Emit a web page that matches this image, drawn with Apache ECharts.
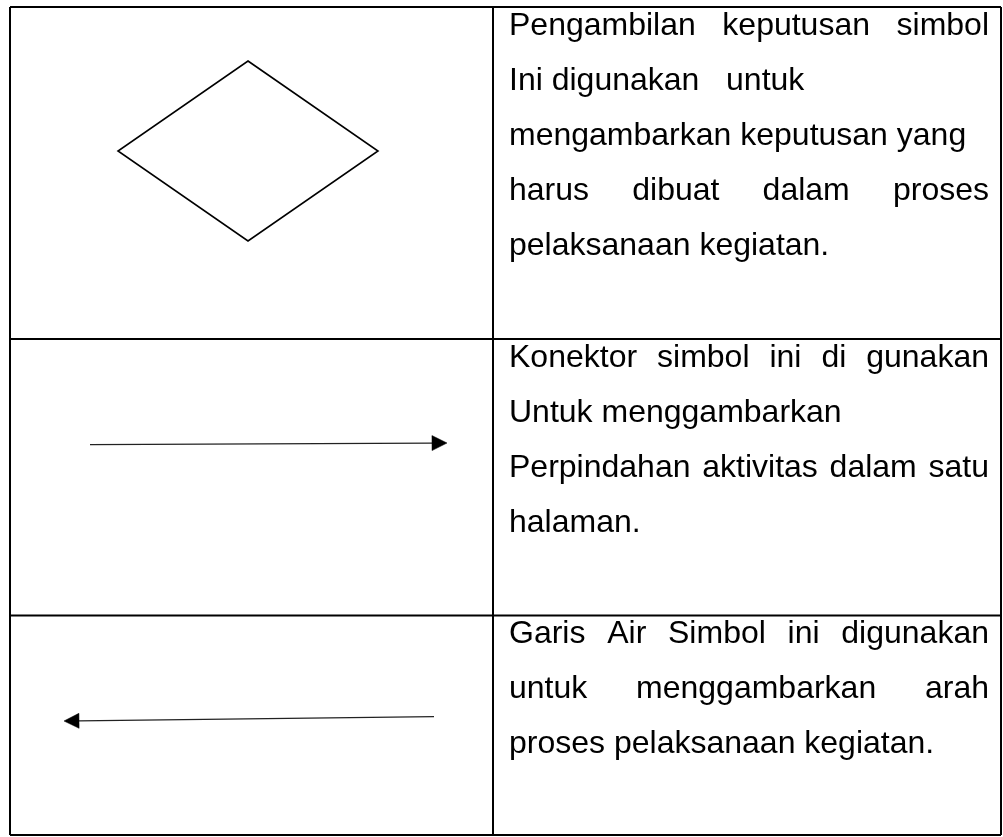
<!DOCTYPE html>
<html><head><meta charset="utf-8">
<script src="https://cdn.jsdelivr.net/npm/echarts@6/dist/echarts.min.js"></script>
<style>html,body{margin:0;padding:0;background:#fff}#c{width:1003px;height:837px}</style>
</head><body><div id="c"></div>
<script>
// Table geometry (in page pixels)
const colEdges = [10, 493, 1001];
const rowEdges = [7, 339, 615.5, 835];

// Symbols
const diamondPts = [[248, 61], [378, 151], [248, 241], [118, 151]];
const arrowFrom = [[90, 444.7], [434, 716.7]];
const arrowTo   = [[447, 443], [64, 721]];

// Texts (one list per row), with justification flags
const row1Lines = ["Pengambilan keputusan simbol", "Ini digunakan   untuk", "mengambarkan keputusan yang", "harus dibuat dalam proses", "pelaksanaan kegiatan."];
const row1Justify = [true, false, false, true, false];
const row2Lines = ["Konektor simbol ini di gunakan", "Untuk menggambarkan", "Perpindahan aktivitas dalam satu", "halaman."];
const row2Justify = [true, false, true, false];
const row3Lines = ["Garis Air Simbol ini digunakan", "untuk menggambarkan arah", "proses pelaksanaan kegiatan."];
const row3Justify = [true, true, false];

const rowsText = [row1Lines, row2Lines, row3Lines];
const rowsJustify = [row1Justify, row2Justify, row3Justify];

const FONT_SIZE = 32;
const FONT = FONT_SIZE + 'px "Liberation Sans", Arial, sans-serif';
const LINE_GAP = 55, FIRST_BASE = 30, PAD_L = 16, PAD_R = 12, MID_SHIFT = 11;

const mctx = document.createElement('canvas').getContext('2d');
mctx.font = FONT;
const tw = s => mctx.measureText(s).width;

// Build segment data
const gridSegs = [];
colEdges.forEach(x => gridSegs.push([x, rowEdges[0], x, rowEdges[rowEdges.length - 1]]));
rowEdges.forEach(y => gridSegs.push([colEdges[0], y, colEdges[colEdges.length - 1], y]));

const textData = [];
rowsText.forEach((lines, r) => lines.forEach((_, i) => textData.push([r, i])));

const chart = echarts.init(document.getElementById('c'), null, {renderer: 'canvas'});
chart.setOption({
  animation: false,
  backgroundColor: '#ffffff',
  grid: {left: 0, right: 0, top: 0, bottom: 0},
  xAxis: {type: 'value', min: 0, max: 1003, show: false},
  yAxis: {type: 'value', min: 0, max: 837, inverse: true, show: false},
  series: [
    {
      type: 'custom', data: gridSegs, clip: false,
      renderItem: (params, api) => {
        const a = api.coord([api.value(0), api.value(1)]);
        const b = api.coord([api.value(2), api.value(3)]);
        return {type: 'line', shape: {x1: a[0], y1: a[1], x2: b[0], y2: b[1]},
          style: {stroke: '#000', lineWidth: 2}};
      }
    },
    {
      type: 'custom', data: [0], clip: false,
      renderItem: (params, api) => ({
        type: 'polygon',
        shape: {points: diamondPts.map(p => api.coord(p))},
        style: {stroke: '#000', lineWidth: 1.6, fill: 'none'}
      })
    },
    {
      type: 'custom', data: arrowFrom.map((_, i) => [i]), clip: false,
      renderItem: (params, api) => {
        const i = api.value(0);
        const a = api.coord(arrowFrom[i]), b = api.coord(arrowTo[i]);
        const dx = b[0] - a[0], dy = b[1] - a[1], L = Math.hypot(dx, dy);
        const ux = dx / L, uy = dy / L, hl = 15, hw = 7.5;
        const bx = b[0] - ux * hl, by = b[1] - uy * hl;
        return {type: 'group', children: [
          {type: 'line', shape: {x1: a[0], y1: a[1], x2: bx, y2: by}, style: {stroke: '#222', lineWidth: 1.2}},
          {type: 'polygon', shape: {points: [[b[0], b[1]], [bx - uy * hw, by + ux * hw], [bx + uy * hw, by - ux * hw]]},
            style: {fill: '#000', stroke: '#000', lineWidth: 0.5}}
        ]};
      }
    },
    {
      type: 'custom', data: textData, clip: false,
      renderItem: (params, api) => {
        const r = api.value(0), i = api.value(1);
        const text = rowsText[r][i];
        const left = colEdges[1] + PAD_L, right = colEdges[2] - PAD_R;
        const baseY = rowEdges[r] + FIRST_BASE + i * LINE_GAP;
        const y = api.coord([left, baseY - MID_SHIFT])[1];
        const children = [];
        const mk = (s, xx) => ({type: 'text', x: api.coord([xx, 0])[0], y: y,
          style: {text: s, font: FONT, fill: '#000', align: 'left', verticalAlign: 'middle'}});
        if (rowsJustify[r][i]) {
          const words = text.split(/\s+/);
          const widths = words.map(tw);
          const total = widths.reduce((s, w) => s + w, 0);
          const gap = (right - left - total) / (words.length - 1);
          let x = left;
          words.forEach((w, k) => { children.push(mk(w, x)); x += widths[k] + gap; });
        } else {
          children.push(mk(text, left));
        }
        return {type: 'group', children};
      }
    }
  ]
});
</script></body></html>
